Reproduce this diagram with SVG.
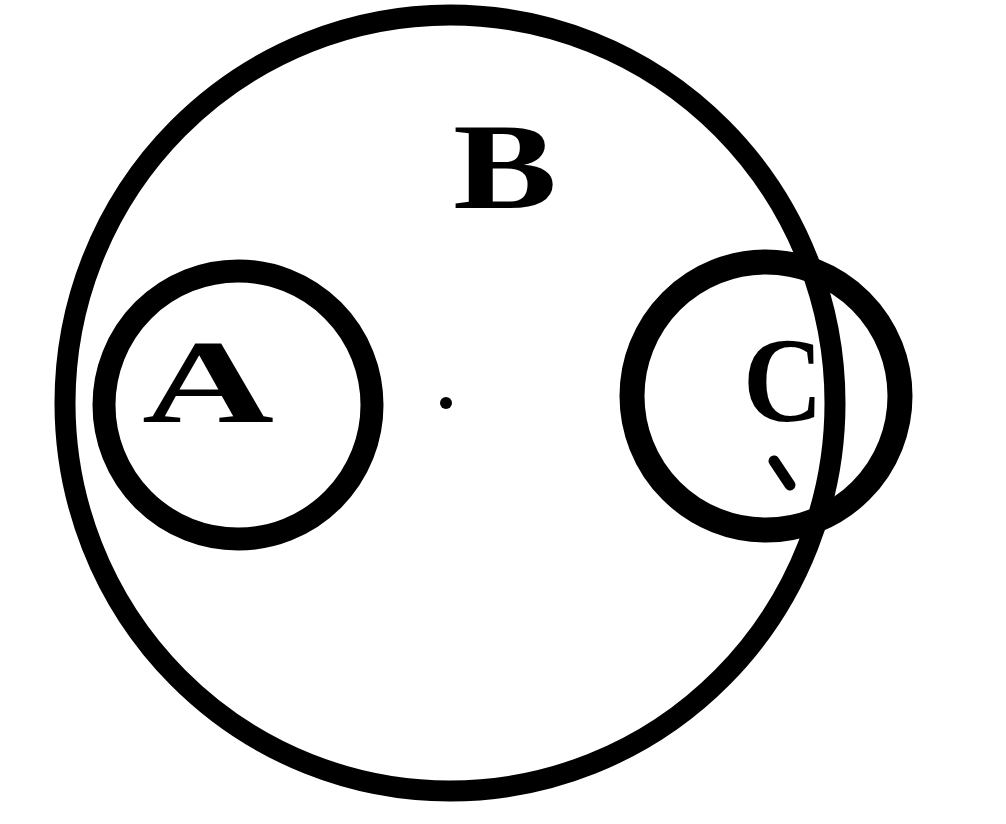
<svg xmlns="http://www.w3.org/2000/svg" width="1006" height="824" viewBox="0 0 1006 824">
<style>
.ring{fill:none;stroke:#000;}
.lbl{font-family:"Liberation Serif","Times New Roman",serif;font-weight:bold;fill:#000;text-anchor:middle;}
</style>
<rect width="1006" height="824" fill="#fff"/>
<g id="B">
<ellipse class="ring" cx="450" cy="403" rx="385" ry="388" stroke-width="21"/>
<text class="lbl" x="505" y="208" font-size="122" textLength="104" lengthAdjust="spacingAndGlyphs">B</text>
</g>
<g id="A">
<circle class="ring" cx="238" cy="405" r="134" stroke-width="23"/>
<text class="lbl" x="208" y="422" font-size="118" textLength="132" lengthAdjust="spacingAndGlyphs">A</text>
</g>
<g id="C">
<circle class="ring" cx="766" cy="396" r="134" stroke-width="25"/>
<text class="lbl" x="783" y="421" font-size="120" textLength="80" lengthAdjust="spacingAndGlyphs">C</text>
<line x1="774" y1="461" x2="790" y2="485" stroke="#000" stroke-width="11" stroke-linecap="round"/>
</g>
<g id="center">
<circle cx="446" cy="403" r="6" fill="#000"/>
</g>
<g id="connectors"></g>
</svg>
